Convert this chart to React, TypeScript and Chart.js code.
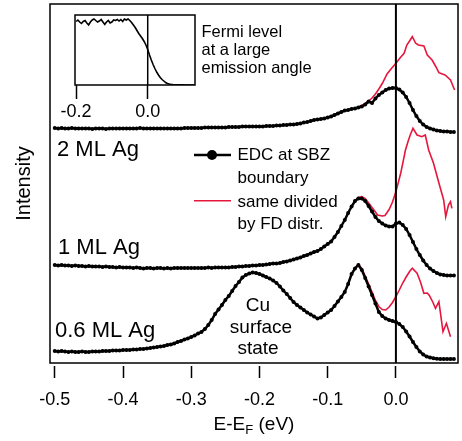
import React, { useEffect, useRef } from "react";
import { Chart, registerables } from "chart.js";
Chart.register(...registerables);

const FONT = "'Liberation Sans', Arial, Helvetica, sans-serif";

// EDC sampling: E - E_F from -0.500 eV in 0.005 eV steps
const E_START = -0.5;
const E_STEP = 0.005;

// 2 ML Ag EDC (arb. units, vertically offset)
const edc2ML = [
  235, 234.5, 235, 234.5, 234.5, 235, 234.5, 234.5, 234.5, 234.5,
  234.5, 234, 234.5, 234.5, 234.5, 234, 234.5, 234.5, 234.5, 234.5,
  234.5, 234.5, 234.5, 234.5, 234.5, 235, 234.5, 234.5, 234.5, 234.5,
  234.5, 234.5, 234.5, 234.5, 234.5, 234.5, 234.5, 234.5, 235, 235,
  235, 235, 235, 235, 235.5, 235.5, 235.5, 235.5, 235.5, 235.5,
  235.5, 236, 236, 236, 236, 236.5, 236.5, 236.5, 236.5, 236.5,
  236.5, 236.5, 237, 237, 237, 237.5, 237.5, 238, 238, 238.5,
  238.5, 239, 239.5, 240.5, 241, 242, 243, 243.5, 244, 244.5,
  245.5, 246.5, 248, 249.5, 251, 252.5, 253, 254, 254.5, 255.5,
  256.5, 258.5, 261.5, 260, 264.5, 268, 270.5, 273, 274.5, 275,
  275, 273.5, 270.5, 266, 260, 253, 247, 242, 238.5, 236,
  234.5, 233.5, 232.5, 232, 231.5, 231.5, 231, 231,
];

// 1 ML Ag EDC
const edc1ML = [
  98, 97.5, 98, 97.5, 97.5, 97, 97.5, 97, 97, 96.5,
  97, 96.5, 96.5, 96.5, 96, 96.5, 96, 96, 95.5, 96,
  95.5, 95.5, 95.5, 95, 95.5, 95, 94.5, 95, 95, 94.5,
  95, 95, 94.5, 95, 94.5, 95, 95, 95, 95, 95,
  95, 95, 95, 95, 95, 95.5, 95, 95.5, 95.5, 95.5,
  95.5, 95.5, 96, 96, 96.5, 96.5, 97, 97, 97.5, 97.5,
  98, 98, 98.5, 99, 99.5, 99.5, 100, 101, 101.5, 102.5,
  103.5, 104.5, 105.5, 107, 108, 109.5, 111, 112, 114, 116.5,
  119, 121.5, 126, 131, 137, 143, 150, 156.5, 162, 164.5,
  164.5, 162, 157, 151.5, 146, 142, 139.5, 137.5, 136.5, 136.5,
  139.5, 140.5, 138, 134, 128, 121, 114, 108, 102.5, 98,
  94.5, 92, 90, 88.5, 88, 87.5, 87.5, 87.5,
];

// 0.6 ML Ag EDC
const edc06ML = [
  12, 11.5, 12, 11.5, 11, 11.5, 11, 11, 11.5, 11,
  11, 11.5, 11.5, 11.5, 12, 12, 12, 12.5, 12.5, 12.5,
  13, 13, 13, 13.5, 13.5, 14, 14, 14.5, 15, 15.5,
  16, 16.5, 17, 18, 18.5, 19.5, 21, 22, 23.5, 24.5,
  26, 27.5, 29.5, 31, 34, 38, 43, 49, 53.5, 58,
  63, 67, 72, 77, 81, 85.5, 88, 89.5, 90.5, 90,
  89, 87.5, 86, 84.5, 82.5, 80, 76.5, 72.5, 69, 65,
  61, 58, 55.5, 53, 50.5, 48.5, 46.5, 44.5, 45.5, 48,
  50.5, 53, 57, 61.5, 66, 71, 79, 89, 94.5, 98,
  93, 85, 76.5, 68, 59.5, 51, 47, 44.5, 43, 42,
  41, 39, 36, 31.5, 26.5, 21, 16, 11.5, 8.5, 6.5,
  5.5, 4.7, 4.3, 4, 4, 4, 4, 4,
];

// EDCs divided by the Fermi-Dirac distribution
const fd2ML_E = [-0.06, -0.055, -0.05, -0.045, -0.04, -0.035, -0.03, -0.025, -0.02, -0.013, -0.006, 0, 0.006, 0.012, 0.016, 0.02, 0.024, 0.029, 0.033, 0.041, 0.046, 0.053, 0.058, 0.063, 0.068, 0.072, 0.08, 0.086];
const fd2ML_I = [254.5, 256, 257.5, 259.5, 262, 265, 269, 274, 279.5, 289, 295, 299.7, 305, 309.7, 318, 322, 326.3, 319.7, 318, 317, 308, 303, 297, 290.3, 289, 288, 283, 273];

const fd1ML_E = [-0.06, -0.055, -0.05, -0.045, -0.04, -0.035, -0.03, -0.027, -0.02, -0.016, -0.01, -0.005, 0, 0.007, 0.014, 0.018, 0.021, 0.025, 0.031, 0.038, 0.043, 0.048, 0.055, 0.063, 0.07, 0.073, 0.077, 0.08, 0.082];
const fd1ML_I = [162.5, 165.5, 166.5, 164.5, 160, 155.5, 151, 148, 147, 147.5, 153.5, 161, 171.3, 189.7, 213, 222, 228, 234.7, 228, 226.3, 228, 213, 200, 180, 163, 146.3, 158, 161.3, 154.7];

const fd06ML_E = [-0.06, -0.055, -0.05, -0.045, -0.04, -0.035, -0.03, -0.025, -0.02, -0.015, -0.01, -0.005, 0, 0.005, 0.01, 0.015, 0.02, 0.024, 0.031, 0.036, 0.041, 0.046, 0.049, 0.054, 0.058, 0.063, 0.069, 0.074, 0.08];
const fd06ML_I = [94.5, 98.5, 94.5, 87, 79, 71, 62.5, 56.5, 53.5, 53, 56, 60.5, 66.5, 73, 80, 86, 91.5, 94.7, 89.7, 81, 69.7, 70, 67.5, 61, 54.7, 61.3, 31.3, 39.7, 26.3];

// Inset: Fermi edge at a large emission angle, from -0.200 eV in 0.005 eV steps
const INSET_START = -0.2;
const fermiEdge = [
  63.5, 65, 63, 61.5, 63.5, 64.5, 62, 60, 63, 65,
  66, 64.5, 63, 64, 65.5, 63, 60.5, 63, 64.5, 62,
  63, 65, 64.5, 65.5, 64, 65.5, 63.5, 66, 65, 66,
  64.5, 62.5, 60, 57.5, 54.5, 51.5, 49, 46.5, 43.5, 40,
  35.5, 30, 25, 20.5, 16.5, 13, 10, 7.5, 5.5, 4,
  2.5, 1.5, 1, 0.6, 0.4, 0.3, 0.2, 0.2, 0.1, 0.1,
  0.1, 0, 0, 0, 0, 0, 0,
];

const X_TICKS = [-0.5, -0.4, -0.3, -0.2, -0.1, 0.0];
const INSET_TICKS = [-0.2, 0.0];

const RED = "#e6173c";

const grid = (start: number, n: number) =>
  Array.from({ length: n }, (_, i) => +(start + i * E_STEP).toFixed(3));

const toPts = (xs: number[], ys: number[]) => ys.map((y, i) => ({ x: xs[i], y }));

const fmt = (v: any) => Number(v).toFixed(1);

const mainDecor = {
  id: "mainDecor",
  afterDatasetsDraw(chart: any) {
    const { ctx, chartArea: a, scales } = chart;
    const x0 = scales.x.getPixelForValue(0);
    ctx.save();
    ctx.strokeStyle = "#000";
    ctx.lineWidth = 2;
    ctx.beginPath();
    ctx.moveTo(x0, a.top);
    ctx.lineTo(x0, a.bottom);
    ctx.stroke();
    ctx.lineWidth = 1.5;
    ctx.strokeRect(a.left, a.top, a.right - a.left, a.bottom - a.top);

    ctx.fillStyle = "#000";
    ctx.textBaseline = "alphabetic";
    ctx.textAlign = "left";
    ctx.font = `22px ${FONT}`;
    ctx.fillText("2 ML Ag", 57, 156);
    ctx.fillText("1 ML Ag", 58, 253.5);
    ctx.fillText("0.6 ML Ag", 55, 336.5);

    ctx.textAlign = "center";
    ctx.font = `19px ${FONT}`;
    ctx.fillText("Cu", 258, 311);
    ctx.fillText("surface", 261, 332.5);
    ctx.fillText("state", 258, 353.5);

    // legend
    ctx.textAlign = "left";
    ctx.font = `17px ${FONT}`;
    ctx.fillText("EDC at SBZ", 237.5, 160);
    ctx.fillText("boundary", 237.5, 183.3);
    ctx.fillText("same divided", 237.5, 206.5);
    ctx.fillText("by FD distr.", 237.5, 229);
    ctx.strokeStyle = "#000";
    ctx.lineWidth = 2.5;
    ctx.beginPath();
    ctx.moveTo(194, 155);
    ctx.lineTo(231, 155);
    ctx.stroke();
    ctx.beginPath();
    ctx.arc(212, 155, 5, 0, Math.PI * 2);
    ctx.fill();
    ctx.strokeStyle = RED;
    ctx.lineWidth = 1.6;
    ctx.beginPath();
    ctx.moveTo(194, 200.7);
    ctx.lineTo(231, 200.7);
    ctx.stroke();

    // inset caption
    ctx.font = `16.5px ${FONT}`;
    ctx.fillText("Fermi level", 201.5, 36.7);
    ctx.fillText("at a large", 201.5, 55);
    ctx.fillText("emission angle", 201.5, 73.3);

    // x-axis title with subscript
    const big = `19px ${FONT}`;
    const small = `13px ${FONT}`;
    ctx.font = big;
    const w1 = ctx.measureText("E-E").width;
    const w3 = ctx.measureText(" (eV)").width;
    ctx.font = small;
    const w2 = ctx.measureText("F").width;
    const total = w1 + w2 + w3;
    let cx = (a.left + a.right) / 2 - total / 2;
    const base = 430;
    ctx.font = big;
    ctx.fillText("E-E", cx, base);
    cx += w1;
    ctx.font = small;
    ctx.fillText("F", cx, base + 4);
    cx += w2;
    ctx.font = big;
    ctx.fillText(" (eV)", cx, base);
    ctx.restore();
  },
};

const insetDecor = {
  id: "insetDecor",
  afterDatasetsDraw(chart: any) {
    const { ctx, chartArea: a, scales } = chart;
    const x0 = scales.x.getPixelForValue(0);
    ctx.save();
    ctx.strokeStyle = "#000";
    ctx.lineWidth = 1.5;
    ctx.beginPath();
    ctx.moveTo(x0, a.top);
    ctx.lineTo(x0, a.bottom);
    ctx.stroke();
    ctx.strokeRect(a.left, a.top, a.right - a.left, a.bottom - a.top);
    ctx.restore();
  },
};

export default function App() {
  const mainRef = useRef<HTMLCanvasElement>(null);
  const insetRef = useRef<HTMLCanvasElement>(null);

  useEffect(() => {
    document.body.style.margin = "0";
    const E = grid(E_START, edc06ML.length);
    const black = (ys: number[]) => ({
      data: toPts(E, ys),
      borderColor: "#000",
      backgroundColor: "#000",
      borderWidth: 2.5,
      pointRadius: 2,
      pointBorderWidth: 0,
      pointBackgroundColor: "#000",
      tension: 0,
    });
    const red = (xs: number[], ys: number[]) => ({
      data: toPts(xs, ys),
      borderColor: RED,
      borderWidth: 1.6,
      pointRadius: 0,
      tension: 0,
    });

    const main = new Chart(mainRef.current!, {
      type: "line",
      data: {
        datasets: [
          black(edc2ML),
          black(edc1ML),
          black(edc06ML),
          red(fd2ML_E, fd2ML_I),
          red(fd1ML_E, fd1ML_I),
          red(fd06ML_E, fd06ML_I),
        ] as any,
      },
      options: {
        animation: false,
        responsive: false,
        events: [],
        layout: { padding: { left: 0, right: 1, top: 4, bottom: 0 } },
        plugins: { legend: { display: false }, tooltip: { enabled: false } },
        scales: {
          x: {
            type: "linear",
            min: -0.507,
            max: 0.091,
            afterBuildTicks: (s: any) => {
              s.ticks = X_TICKS.map((v) => ({ value: v }));
            },
            afterFit: (s: any) => {
              s.height = 78;
            },
            border: { display: false },
            grid: {
              display: true,
              drawOnChartArea: false,
              drawTicks: true,
              tickLength: 15,
              tickColor: "#000",
              tickWidth: 1.5,
              tickBorderDash: [0, 3, 12, 40],
            } as any,
            ticks: {
              color: "#000",
              font: { family: FONT, size: 18 },
              padding: 11,
              maxRotation: 0,
              autoSkip: false,
              callback: fmt,
            },
          },
          y: {
            type: "linear",
            min: 0,
            max: 359,
            afterFit: (s: any) => {
              s.width = 50;
            },
            border: { display: false },
            grid: { display: false },
            ticks: { display: false },
            title: {
              display: true,
              text: "Intensity",
              color: "#000",
              font: { family: FONT, size: 20 },
              padding: { top: 12, bottom: 0 },
            },
          },
        },
      } as any,
      plugins: [mainDecor],
    });

    const EI = fermiEdge.map((_, i) => +(INSET_START + i * E_STEP).toFixed(3));
    const inset = new Chart(insetRef.current!, {
      type: "line",
      data: {
        datasets: [
          {
            data: toPts(EI, fermiEdge),
            borderColor: "#000",
            borderWidth: 1.6,
            pointRadius: 0,
            tension: 0,
          },
        ] as any,
      },
      options: {
        animation: false,
        responsive: false,
        events: [],
        layout: { padding: { left: 75, right: 267, top: 15, bottom: 316 } },
        plugins: { legend: { display: false }, tooltip: { enabled: false } },
        scales: {
          x: {
            type: "linear",
            min: -0.203,
            max: 0.132,
            afterBuildTicks: (s: any) => {
              s.ticks = INSET_TICKS.map((v) => ({ value: v }));
            },
            afterFit: (s: any) => {
              s.height = 40;
            },
            border: { display: false },
            grid: {
              display: true,
              drawOnChartArea: false,
              drawTicks: true,
              tickLength: 14,
              tickColor: "#000",
              tickWidth: 1.5,
            },
            ticks: {
              color: "#000",
              font: { family: FONT, size: 18 },
              padding: 2,
              maxRotation: 0,
              autoSkip: false,
              callback: fmt,
            },
          },
          y: { type: "linear", display: false, min: 0, max: 70 },
        },
      } as any,
      plugins: [insetDecor],
    });

    return () => {
      main.destroy();
      inset.destroy();
    };
  }, []);

  return (
    <div style={{ position: "relative", width: 462, height: 441, background: "#fff" }}>
      <canvas ref={mainRef} width={462} height={441} style={{ position: "absolute", left: 0, top: 0 }} />
      <canvas ref={insetRef} width={462} height={441} style={{ position: "absolute", left: 0, top: 0 }} />
    </div>
  );
}
